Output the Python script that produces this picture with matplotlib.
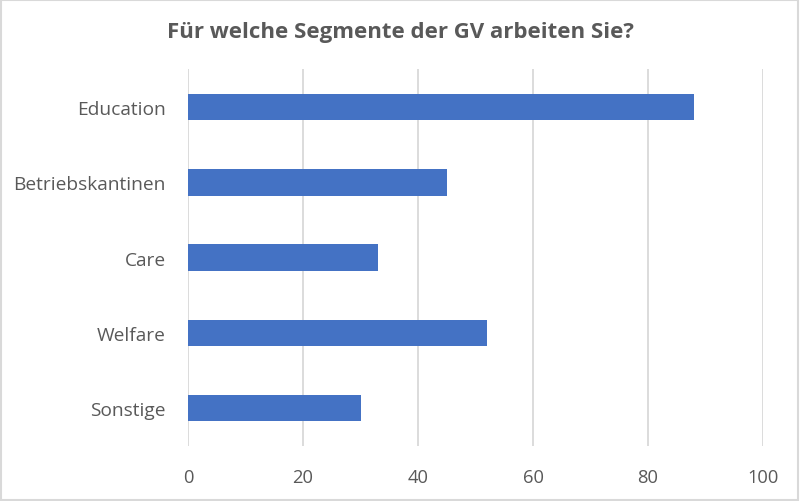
import matplotlib
matplotlib.use("Agg")
import matplotlib.pyplot as plt
from matplotlib.patches import Rectangle

categories = ["Education", "Betriebskantinen", "Care", "Welfare", "Sonstige"]
values = [88, 45, 33, 52, 30]
xticks = [0, 20, 40, 60, 80, 100]
title = "Für welche Segmente der GV arbeiten Sie?"

plt.rcParams['font.family'] = ['Open Sans', 'DejaVu Sans']

fig = plt.figure(figsize=(8.0, 5.02), dpi=100)
ax = fig.add_axes([0.235, 0.1098, 0.71875, 0.7500])

ypos = list(range(len(categories)))
ax.barh(ypos, values, height=0.35, color="#4472C4", zorder=3)
ax.set_yticks(ypos)
ax.set_yticklabels(categories, fontsize=13.8)
ax.set_ylim(len(categories) - 0.5, -0.5)
ax.set_xlim(0, 100)
ax.set_xticks(xticks)
ax.set_xticklabels([str(t) for t in xticks], fontsize=13.2)
ax.grid(axis="x", color="#d9d9d9", linewidth=1.3, zorder=0)
for s in ax.spines.values():
    s.set_visible(False)
ax.tick_params(axis="both", length=0, colors="#595959")
ax.tick_params(axis="y", pad=16)
ax.tick_params(axis="x", pad=16)

fig.text(0.5, 0.936, title, ha="center", va="center", fontsize=16,
         fontweight="bold", color="#595959")

fig.patches.append(Rectangle((0.001, 0.001), 0.997, 0.997, transform=fig.transFigure,
                             fill=False, edgecolor="#d9d9d9", linewidth=1.5))

fig.savefig("out.png", dpi=100, facecolor="white")
